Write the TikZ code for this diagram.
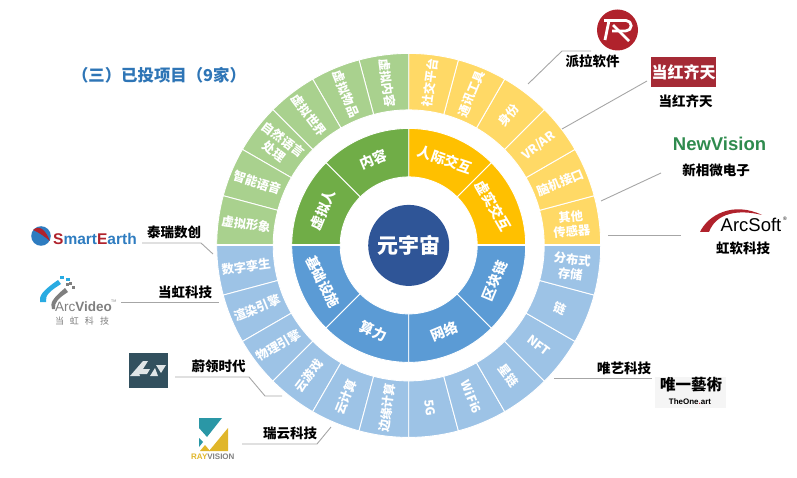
\documentclass[tikz,border=0pt]{standalone}
\usepackage{fontspec}
\setmainfont{Noto Sans CJK SC}
\newfontfamily\latinb{Liberation Sans}
\definecolor{gD}{HTML}{70AD47}
\definecolor{gL}{HTML}{A9D18E}
\definecolor{yD}{HTML}{FFC000}
\definecolor{yL}{HTML}{FFD966}
\definecolor{bD}{HTML}{5B9BD5}
\definecolor{bL}{HTML}{9DC3E6}
\definecolor{hub}{HTML}{2F5597}
\definecolor{ttl}{HTML}{2E75B6}
\definecolor{lnk}{HTML}{A6A6A6}
\definecolor{lred}{HTML}{B0222C}
\definecolor{qred}{HTML}{A52A35}
\definecolor{nvg}{HTML}{2F8B4E}
\definecolor{teal}{HTML}{2A97A6}
\definecolor{gold}{HTML}{E0B62A}
\definecolor{lav}{HTML}{32505E}
\definecolor{grayt}{HTML}{7F7F7F}
\definecolor{earth}{HTML}{2E7CC0}
\definecolor{sky}{HTML}{29ABE2}
\tikzset{
  x=1pt,y=1pt,
  seg/.style={draw=white,line width=0.9pt},
  inlab/.style={text=white,font=\bfseries\fontsize{14}{16}\selectfont,inner sep=0pt,align=center},
  outlab/.style={text=white,font=\bfseries\fontsize{12.3}{14}\selectfont,inner sep=0pt,align=center},
  firm/.style={text=black,font=\bfseries\fontsize{13.5}{15}\selectfont,inner sep=0pt},
  link/.style={draw=lnk,line width=0.9pt},
}
\newcommand{\sector}[5]{% fill, from, to, r1, r2
  \path[seg,fill=#1] (#2:#4) -- (#2:#5) arc[start angle=#2,end angle=#3,radius=#5] -- (#3:#4) arc[start angle=#3,end angle=#2,radius=#4] -- cycle;}
\begin{document}
\begin{tikzpicture}
\useasboundingbox (0,0) rectangle (797,477);
\begin{scope}[shift={(408.7,231.6)}]
  % outer ring
  \foreach \a in {0,15,...,75}{\pgfmathsetmacro\b{\a+15}\sector{yL}{\a}{\b}{135.5}{192}}
  \foreach \a in {90,105,...,165}{\pgfmathsetmacro\b{\a+15}\sector{gL}{\a}{\b}{135.5}{192}}
  \foreach \a in {180,195,...,255}{\pgfmathsetmacro\b{\a+15}\sector{bL}{\a}{\b}{135.5}{192}}
  \foreach \a in {270,285,...,345}{\pgfmathsetmacro\b{\a+15}\sector{bL}{\a}{\b}{135.5}{192}}
  % inner ring
  \sector{yD}{0}{45}{68.5}{117}\sector{yD}{45}{90}{68.5}{117}
  \sector{gD}{90}{135}{68.5}{117}\sector{gD}{135}{180}{68.5}{117}
  \sector{bD}{180}{225}{68.5}{117}\sector{bD}{225}{270}{68.5}{117}
  \sector{bD}{270}{315}{68.5}{117}\sector{bD}{315}{360}{68.5}{117}
  \draw[white,line width=2pt] (-194,0) -- (194,0);
  % hub
  \node[circle,fill=hub,minimum size=81pt,inner sep=0pt,text=white,font=\bfseries\fontsize{21}{23}\selectfont] (hubnode) at (0,0) {元宇宙};
  % inner labels
  \node[inlab,rotate=-19] (i1) at (67:93) {人际交互};
  \node[inlab,rotate=-60] (i2) at (25:93) {虚实交互};
  \node[inlab,rotate=67.5] (i3) at (-22.5:93) {区块链};
  \node[inlab,rotate=22.5] (i4) at (-67.5:93) {网络};
  \node[inlab,rotate=-22.5] (i5) at (-112.5:93) {算力};
  \node[inlab,rotate=-63] (i6) at (-157:93) {基础设施};
  \node[inlab,rotate=67.5] (i7) at (157.5:93) {虚拟人};
  \node[inlab,rotate=22.5] (i8) at (112.5:93) {内容};
  % outer labels, top right
  \node[outlab,rotate=82.5] (o1) at (82.5:164) {社交平台};
  \node[outlab,rotate=67.5] (o2) at (67.5:164) {通讯工具};
  \node[outlab,rotate=52.5] (o3) at (52.5:164) {身份};
  \node[outlab,rotate=37.5] (o4) at (37.5:164) {VR/AR};
  \node[outlab,rotate=22.5] (o5) at (22.5:164) {脑机接口};
  \node[outlab,rotate=5] (o6) at (7.5:164) {其他\\[1pt]传感器};
  % bottom right
  \node[outlab,rotate=-7.5] (o7) at (-7.5:164) {分布式\\[1pt]存储};
  \node[outlab,rotate=-22.5] (o8) at (-22.5:164) {链};
  \node[outlab,rotate=-37.5] (o9) at (-37.5:164) {NFT};
  \node[outlab,rotate=-52.5] (o10) at (-52.5:164) {星链};
  \node[outlab,rotate=-67.5] (o11) at (-67.5:164) {WiFi6};
  \node[outlab,rotate=-82.5] (o12) at (-82.5:164) {5G};
  % bottom left
  \node[outlab,rotate=82.5] (o13) at (262.5:164) {边缘计算};
  \node[outlab,rotate=67.5] (o14) at (247.5:164) {云计算};
  \node[outlab,rotate=52.5] (o15) at (232.5:164) {云游戏};
  \node[outlab,rotate=30] (o16) at (217.5:164) {物理引擎};
  \node[outlab,rotate=22.5] (o17) at (202.5:164) {渲染引擎};
  \node[outlab,rotate=7.5] (o18) at (187.5:164) {数字孪生};
  % top left
  \node[outlab,rotate=-7.5] (o19) at (172.5:164) {虚拟形象};
  \node[outlab,rotate=-18] (o20) at (157.5:164) {智能语音};
  \node[outlab,rotate=-37.5] (o21) at (142.5:164) {自然语言\\[1pt]处理};
  \node[outlab,rotate=-52.5] (o22) at (127.5:164) {虚拟世界};
  \node[outlab,rotate=-67.5] (o23) at (112.5:164) {虚拟物品};
  \node[outlab,rotate=-82.5] (o24) at (97.5:164) {虚拟内容};
\end{scope}
% title
\node[text=ttl,font=\bfseries\fontsize{16.4}{18}\selectfont,inner sep=0pt] (title) at (159,402) {（三）已投项目（9家）};
% firm labels
\node[firm] (paila) at (592.5,416) {派拉软件};
\node[firm] (dhqt) at (685.5,376) {当红齐天};
\node[firm] (xxw) at (716,307) {新相微电子};
\node[firm] (hr) at (743,229) {虹软科技};
\node[firm] (trsc) at (174,245) {泰瑞数创};
\node[firm] (dhkj) at (185,185) {当虹科技};
\node[firm] (wlsd) at (218.5,111) {蔚领时代};
\node[firm] (rykj) at (290,44) {瑞云科技};
\node[firm] (wykj) at (624,109) {唯艺科技};
% connectors
\coordinate (c1a) at (528,393);\coordinate (c1b) at (562,426);\coordinate (c1c) at (591,426);
\draw[link] (c1a)--(c1b)--(c1c);
\coordinate (c2a) at (562,348);\coordinate (c2b) at (647,396);
\draw[link] (c2a)--(c2b);
\coordinate (c3a) at (601,276);\coordinate (c3b) at (661,304);
\draw[link] (c3a)--(c3b);
\coordinate (c4a) at (608,242);\coordinate (c4b) at (681,242);
\draw[link] (c4a)--(c4b);
\coordinate (c5a) at (142,234);\coordinate (c5b) at (201,234);\coordinate (c5c) at (213,223);
\draw[link] (c5a)--(c5b)--(c5c);
\coordinate (c6a) at (121,175);\coordinate (c6b) at (219,175);
\draw[link] (c6a)--(c6b);
\coordinate (c7a) at (175,100);\coordinate (c7b) at (249,100);\coordinate (c7c) at (265,81);\coordinate (c7d) at (282,81);
\draw[link] (c7a)--(c7b)--(c7c)--(c7d);
\coordinate (c8a) at (242,33);\coordinate (c8b) at (317,33);\coordinate (c8c) at (331,50);
\draw[link] (c8a)--(c8b)--(c8c);
\coordinate (c9a) at (554,99);\coordinate (c9b) at (652,99);
\draw[link] (c9a)--(c9b);
% logo: Paila
\fill[lred] (617.5,447) circle[radius=20.5];
\draw[white,line width=2.8pt,line join=round] (604,456.5)--(626,456.5) arc[start angle=90,end angle=-90,radius=5.2]--(612,446);
\draw[white,line width=2.8pt] (609,456.5)--(605,437);
\draw[white,line width=2.8pt] (613,452)--(629,436);
% logo: Dang Hong Qi Tian
\node[fill=qred,minimum width=65pt,minimum height=30pt,inner sep=0pt,text=white,font=\bfseries\fontsize{16}{18}\selectfont] (qt) at (683.5,405) {当红齐天};
% logo: NewVision
\node[inner sep=0pt,text=nvg,font=\latinb\bfseries\fontsize{18.5}{20}\selectfont] (nv) at (719.5,333.5) {NewVision};
% logo: ArcSoft
\fill[lred] (700,245) .. controls (708,262) and (733,276) .. (762,262) .. controls (738,268) and (716,264) .. (709,245) -- cycle;
\node[inner sep=0pt,text=black,font=\latinb\fontsize{18.5}{20}\selectfont] (as) at (751,252) {ArcSoft};
\node[inner sep=0pt,font=\latinb\fontsize{5}{5}\selectfont] (asr) at (785,258) {®};
% logo: SmartEarth
\fill[earth] (41,241) circle[radius=9.8];
\fill[lred] (33,247) .. controls (40,253) and (46,246) .. (50,236) .. controls (45,240) and (40,244) .. (33,247) -- cycle;
\node[inner sep=0pt,text=earth,font=\latinb\bfseries\fontsize{15.5}{18}\selectfont,anchor=west] (se) at (53,238.5) {\textcolor{lred}{S}mart\textcolor{lred}{E}arth};
% logo: ArcVideo
\fill[sky] (40,175) .. controls (39,181) and (42,186) .. (58,197) -- (61,193) .. controls (50,186) and (45,182) .. (46,175) -- cycle;
\fill[grayt] (52,168) .. controls (50,174) and (52,178) .. (65,189) -- (68,185) .. controls (59,179) and (54,175) .. (55,168) -- cycle;
\fill[sky] (60,198) rectangle ++(3.5,3.5);
\fill[sky] (66,196) rectangle ++(3.5,3.5);
\fill[grayt] (69,192) rectangle ++(3,3);
\fill[grayt] (72,188) rectangle ++(3,3);
\fill[grayt] (66,191) rectangle ++(3,3);
\node[inner sep=0pt,text=grayt,font=\latinb\fontsize{13.5}{14}\selectfont,anchor=west] (av) at (55,170) {Arc\textbf{Video}};
\node[inner sep=0pt,text=grayt,font=\fontsize{3.5}{4}\selectfont,anchor=west] (tm) at (111,175.5) {TM};
\node[inner sep=0pt,text=grayt,font=\fontsize{9}{10}\selectfont] (avc) at (82,156) {当\hspace{6pt}虹\hspace{6pt}科\hspace{6pt}技};
% logo: Weiling
\fill[lav] (129,89) rectangle (168,124);
\fill[white!85!lav] (130,101) -- (143,116) -- (148,116) -- (143,108) -- (150,108) -- (147,103) -- (139,103) -- (140,101) -- cycle;
\fill[white!85!lav] (150,101) -- (155,109) -- (158,101) -- cycle;
\fill[white!85!lav] (156,112) -- (166,112) -- (161,104) -- cycle;
% logo: Rayvision
\fill[teal] (199,59) -- (222,59) -- (207,40) -- (199,49) -- cycle;
\fill[teal] (199,39) -- (203,35) -- (199,30) -- cycle;
\fill[gold] (228,49) -- (228,26) -- (209,26) -- cycle;
\fill[gold] (200,26) -- (210,26) -- (205,32) -- cycle;
\node[inner sep=0pt,font=\latinb\bfseries\fontsize{8}{9}\selectfont,anchor=west] (rv) at (191,20) {\textcolor{gold}{RAY}\textcolor{grayt}{VISION}};
% logo: TheOne
\node[fill=black!4,minimum width=71pt,minimum height=31pt,inner sep=0pt] (tbg) at (690.5,84.5) {};
\node[inner sep=0pt,text=black,font=\bfseries\fontsize{15.5}{17}\selectfont] (ty) at (691,92) {唯一藝術};
\node[inner sep=0pt,text=black,font=\latinb\bfseries\fontsize{8}{9}\selectfont] (te) at (690,75) {TheOne\textcolor{lred}{.}art};
\end{tikzpicture}
\end{document}
